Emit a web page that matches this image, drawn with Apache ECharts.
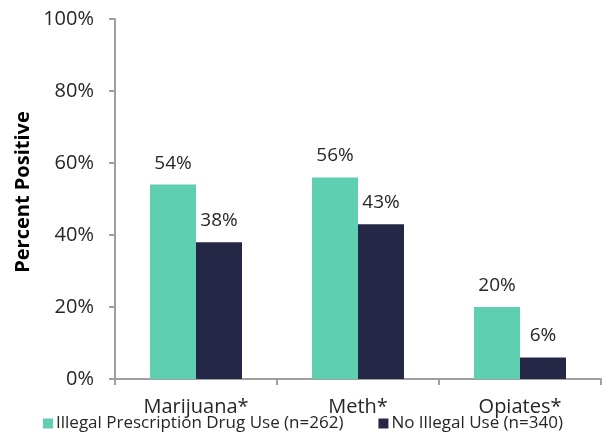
<!DOCTYPE html>
<html>
<head>
<meta charset="utf-8">
<script src="https://cdn.jsdelivr.net/npm/echarts@6/dist/echarts.min.js"></script>
<style>
  html, body { margin: 0; padding: 0; background: #fff; }
  #chart { width: 602px; height: 437px; }
</style>
</head>
<body>
<div id="chart"></div>
<script>
// Drug test results by group
const categories = ['Marijuana*', 'Meth*', 'Opiates*'];
const illegalRxUse = [54, 56, 20];
const noIllegalUse = [38, 43, 6];
const seriesNames = ['Illegal Prescription Drug Use (n=262)', 'No Illegal Use (n=340)'];
const yTicks = [0, 20, 40, 60, 80, 100];

const FONT = '"Open Sans", "Noto Sans", sans-serif';
const TEXT = '#262626';
const AXIS = '#a0a0a0';

const chart = echarts.init(document.getElementById('chart'), null, { renderer: 'canvas' });

const labelStyle = {
  show: true,
  position: 'top',
  distance: 12,
  formatter: p => p.value + '%',
  color: TEXT,
  fontFamily: FONT,
  fontSize: 19
};

chart.setOption({
  animation: false,
  grid: { left: 115, right: 1, top: 19, bottom: 58, containLabel: false },
  legend: {
    left: 38,
    top: 415,
    padding: [0, 5, 0, 5],
    itemWidth: 10,
    itemHeight: 10,
    itemGap: 35,
    icon: 'rect',
    textStyle: { color: TEXT, fontFamily: FONT, fontSize: 17, padding: [0, 0, 0, -2] },
    data: seriesNames
  },
  xAxis: {
    type: 'category',
    data: categories,
    axisLine: { lineStyle: { color: AXIS, width: 2 } },
    axisTick: { show: true, length: 6, lineStyle: { color: AXIS, width: 2 } },
    axisLabel: { color: TEXT, fontFamily: FONT, fontSize: 20, margin: 18 }
  },
  yAxis: {
    type: 'value',
    min: yTicks[0],
    max: yTicks[yTicks.length - 1],
    interval: yTicks[1] - yTicks[0],
    axisLine: { show: true, lineStyle: { color: AXIS, width: 2 } },
    axisTick: { show: true, length: 6, lineStyle: { color: AXIS, width: 2 } },
    splitLine: { show: false },
    axisLabel: {
      color: TEXT, fontFamily: FONT, fontSize: 20, margin: 21,
      formatter: v => v + '%'
    }
  },
  graphic: [{
    type: 'text',
    x: 23,
    y: 192,
    rotation: Math.PI / 2,
    style: {
      text: 'Percent Positive',
      fill: '#000',
      font: 'bold 20px ' + FONT,
      textAlign: 'center',
      textVerticalAlign: 'middle'
    }
  }],
  series: [
    {
      name: seriesNames[0],
      type: 'bar',
      data: illegalRxUse,
      barWidth: 46,
      barGap: '0%',
      itemStyle: { color: '#5ecfb1' },
      label: labelStyle
    },
    {
      name: seriesNames[1],
      type: 'bar',
      data: noIllegalUse,
      barWidth: 46,
      itemStyle: { color: '#242846' },
      label: labelStyle
    }
  ]
});
</script>
</body>
</html>
